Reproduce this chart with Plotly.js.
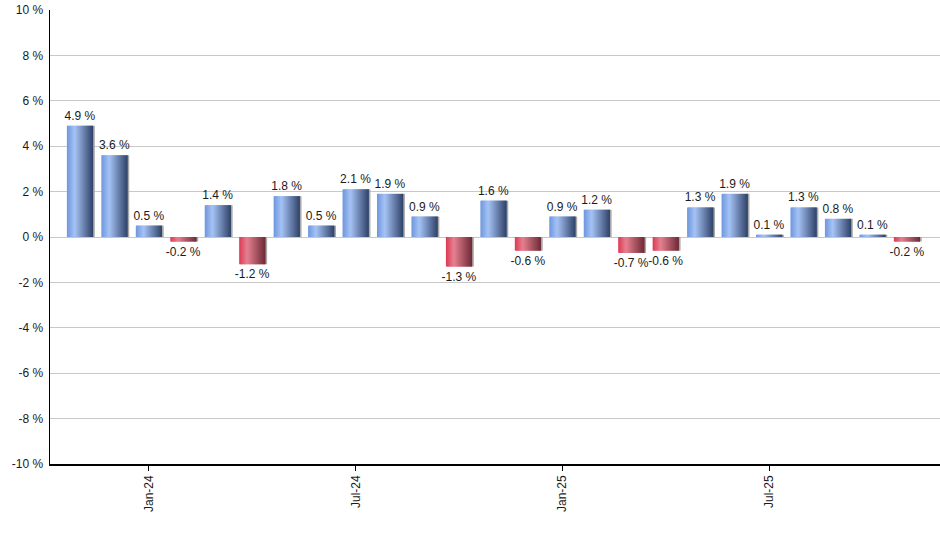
<!DOCTYPE html>
<html>
<head>
<meta charset="utf-8">
<script src="https://cdn.plot.ly/plotly-3.0.1.min.js"></script>
<style>
  html, body { margin: 0; padding: 0; background: #fff; }
  #chart { width: 940px; height: 550px; }
</style>
</head>
<body>
<div id="chart"></div>
<script>
/* global Plotly */
const months = [
  'Nov-23', 'Dec-23', 'Jan-24', 'Feb-24', 'Mar-24', 'Apr-24', 'May-24',
  'Jun-24', 'Jul-24', 'Aug-24', 'Sep-24', 'Oct-24', 'Nov-24', 'Dec-24',
  'Jan-25', 'Feb-25', 'Mar-25', 'Apr-25', 'May-25', 'Jun-25', 'Jul-25',
  'Aug-25', 'Sep-25', 'Oct-25', 'Nov-25'
];
const returns = [
  4.9, 3.6, 0.5, -0.2, 1.4, -1.2, 1.8, 0.5, 2.1, 1.9, 0.9, -1.3, 1.6,
  -0.6, 0.9, 1.2, -0.7, -0.6, 1.3, 1.9, 0.1, 1.3, 0.8, 0.1, -0.2
];
const tickMonths = ['Jan-24', 'Jul-24', 'Jan-25', 'Jul-25'];
const yTicks = [-10, -8, -6, -4, -2, 0, 2, 4, 6, 8, 10];

// gradient stops across a bar, left to right: [position, rgb]
const BLUE_STOPS = [[0, [110, 150, 222]], [0.3, [166, 195, 245]], [1, [47, 66, 104]]];
const RED_STOPS = [[0, [220, 58, 85]], [0.3, [230, 128, 144]], [1, [110, 42, 54]]];

function shade(stops, t) {
  for (let k = 1; k < stops.length; k++) {
    if (t <= stops[k][0]) {
      const [t0, c0] = stops[k - 1];
      const [t1, c1] = stops[k];
      const f = (t - t0) / (t1 - t0);
      const c = c0.map((v, j) => Math.round(v + (c1[j] - v) * f));
      return 'rgb(' + c.join(',') + ')';
    }
  }
  return 'rgb(' + stops[stops.length - 1][1].join(',') + ')';
}

const BAR_WIDTH = 0.76;
const STRIPS = 26;
const stripW = BAR_WIDTH / STRIPS;

const traces = [];

// drop shadow on the right side
traces.push({
  type: 'bar', x: months, y: returns,
  offset: BAR_WIDTH / 2 - 0.01, width: 0.06,
  marker: { color: '#a8a8a8', line: { width: 0 } },
  hoverinfo: 'skip', showlegend: false
});

// strips overlap the next one so no seams show
for (let i = 0; i < STRIPS; i++) {
  const t = (i + 0.5) / STRIPS;
  const last = i === STRIPS - 1;
  traces.push({
    type: 'bar', x: months, y: returns,
    offset: -BAR_WIDTH / 2 + i * stripW,
    width: last ? stripW : stripW * 2,
    marker: {
      color: returns.map(v => shade(v < 0 ? RED_STOPS : BLUE_STOPS, t)),
      line: { width: 0 }
    },
    hoverinfo: 'skip', showlegend: false
  });
}

// value labels
traces.push({
  type: 'bar', x: months, y: returns,
  width: BAR_WIDTH,
  marker: { color: 'rgba(0,0,0,0)', line: { width: 0 } },
  text: returns.map(v => v.toFixed(1) + ' %'),
  textposition: 'outside',
  constraintext: 'none',
  textfont: { family: 'Liberation Sans, Arial, sans-serif', size: 12, color: '#1a1a1a' },
  cliponaxis: false,
  showlegend: false
});

const layout = {
  width: 940,
  height: 550,
  margin: { l: 50, r: 0, t: 10, b: 86 },
  paper_bgcolor: '#fff',
  plot_bgcolor: '#fff',
  barmode: 'overlay',
  showlegend: false,
  font: { family: 'Liberation Sans, Arial, sans-serif', size: 12, color: '#1a1a1a' },
  xaxis: {
    type: 'category',
    categoryorder: 'array',
    categoryarray: months,
    range: [-0.87, 24.96],
    tickmode: 'array',
    tickvals: tickMonths,
    ticktext: tickMonths,
    tickangle: -90,
    ticks: 'outside',
    ticklen: 5,
    tickcolor: '#000',
    showgrid: false,
    showline: true,
    linecolor: '#000',
    linewidth: 1.5,
    zeroline: false
  },
  yaxis: {
    range: [-10, 10],
    tickmode: 'array',
    tickvals: yTicks,
    ticktext: yTicks.map(v => v + ' %'),
    showgrid: true,
    gridcolor: '#c8c8c8',
    gridwidth: 1,
    zeroline: true,
    zerolinecolor: '#c8c8c8',
    zerolinewidth: 1,
    showline: true,
    linecolor: '#000',
    linewidth: 1.5,
    ticks: '',
    ticklabelstandoff: 3
  }
};

Plotly.newPlot('chart', traces, layout, { displayModeBar: false, staticPlot: true });
</script>
</body>
</html>
